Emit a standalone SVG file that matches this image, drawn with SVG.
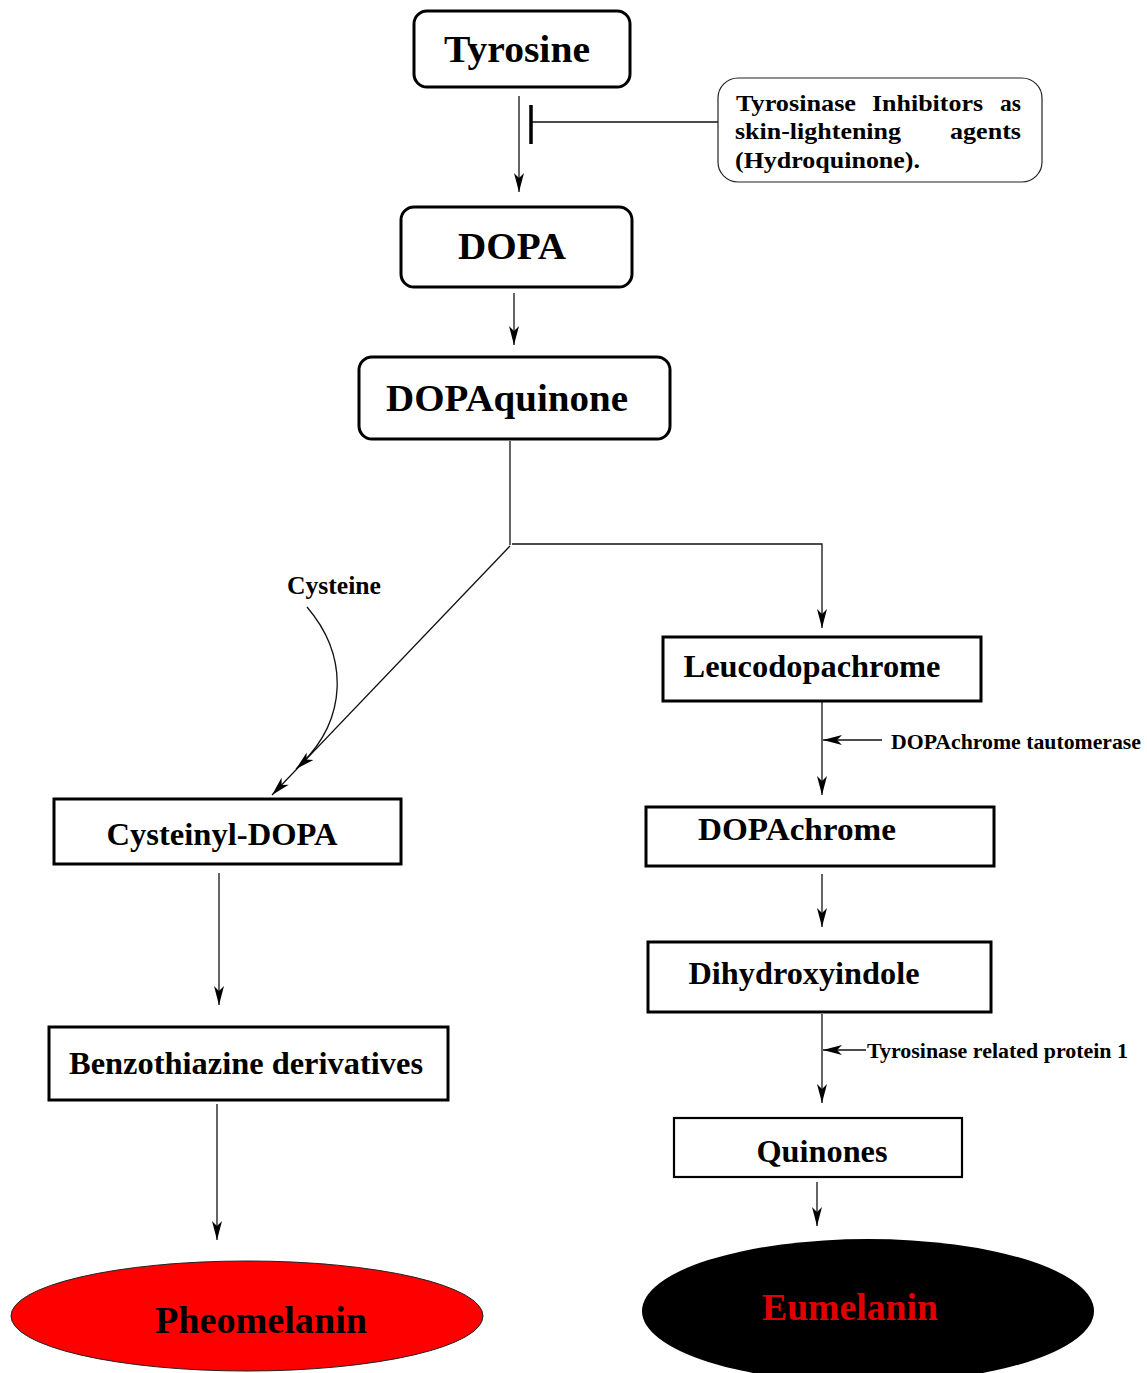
<svg xmlns="http://www.w3.org/2000/svg" width="1147" height="1373" viewBox="0 0 1147 1373">
<style>
text{font-family:"Liberation Serif","Times New Roman",serif;font-weight:bold;fill:#000}
.rbox{fill:#fff;stroke:#000;stroke-width:3}
.box{fill:#fff;stroke:#000;stroke-width:3}
.big{font-size:38px}
.mid{font-size:32px}
.sm{font-size:21.5px}
.inh{font-size:24px}
.c{text-anchor:middle}
.ln{fill:none;stroke:#111;stroke-width:1.3}
</style>
<defs>
<marker id="ah" markerUnits="userSpaceOnUse" markerWidth="20" markerHeight="12" viewBox="0 0 20 12" refX="19" refY="6" orient="auto">
<path d="M0,1 L19,6 L0,11 L5,6 Z" fill="#000"/>
</marker>
</defs>
<rect width="1147" height="1373" fill="#fff"/>
<g id="connectors">
<line class="ln" x1="519" y1="96" x2="519" y2="192" marker-end="url(#ah)"/>
<line class="ln" x1="718" y1="122" x2="531" y2="122"/>
<line x1="531" y1="105" x2="531" y2="144" stroke="#000" stroke-width="3.5"/>
<line class="ln" x1="514" y1="293" x2="514" y2="345" marker-end="url(#ah)"/>
<polyline class="ln" points="510,441 510,545"/>
<polyline class="ln" points="512,544 822,544 822,628" marker-end="url(#ah)"/>
<line class="ln" x1="510" y1="546" x2="272" y2="795" marker-end="url(#ah)"/>
<path class="ln" d="M307,607 C348,655 350,720 296,769" marker-end="url(#ah)"/>
<line class="ln" x1="219" y1="873" x2="219" y2="1005" marker-end="url(#ah)"/>
<line class="ln" x1="217" y1="1104" x2="217" y2="1240" marker-end="url(#ah)"/>
<line class="ln" x1="822" y1="702" x2="822" y2="795" marker-end="url(#ah)"/>
<line class="ln" x1="882" y1="740" x2="823" y2="740" marker-end="url(#ah)"/>
<line class="ln" x1="822" y1="874" x2="822" y2="927" marker-end="url(#ah)"/>
<line class="ln" x1="822" y1="1014" x2="822" y2="1103" marker-end="url(#ah)"/>
<line class="ln" x1="866" y1="1050" x2="823" y2="1050" marker-end="url(#ah)"/>
<line class="ln" x1="817" y1="1182" x2="817" y2="1226" marker-end="url(#ah)"/>
</g>
<g id="tyrosine">
<rect class="rbox" x="414" y="11" width="216" height="76" rx="13"/>
<text class="big c" x="517" y="62" textLength="146" lengthAdjust="spacingAndGlyphs">Tyrosine</text>
</g>
<g id="inhibitors">
<rect x="718" y="78" width="324" height="104" rx="20" fill="#fff" stroke="#222" stroke-width="1.2"/>
<text class="inh" x="736" y="111" textLength="120" lengthAdjust="spacingAndGlyphs">Tyrosinase</text>
<text class="inh" x="872" y="111" textLength="111" lengthAdjust="spacingAndGlyphs">Inhibitors</text>
<text class="inh" x="1000" y="111" textLength="21" lengthAdjust="spacingAndGlyphs">as</text>
<text class="inh" x="735" y="139" textLength="166" lengthAdjust="spacingAndGlyphs">skin-lightening</text>
<text class="inh" x="950" y="139" textLength="71" lengthAdjust="spacingAndGlyphs">agents</text>
<text class="inh" x="735" y="168" textLength="185" lengthAdjust="spacingAndGlyphs">(Hydroquinone).</text>
</g>
<g id="dopa">
<rect class="rbox" x="401" y="207" width="231" height="80" rx="13"/>
<text class="big c" x="512" y="259" textLength="108" lengthAdjust="spacingAndGlyphs">DOPA</text>
</g>
<g id="dopaquinone">
<rect class="rbox" x="359" y="357" width="311" height="82" rx="13"/>
<text class="big c" x="507" y="411" textLength="242" lengthAdjust="spacingAndGlyphs">DOPAquinone</text>
</g>
<g id="cysteine">
<text class="c" x="334" y="594" font-size="25.5" textLength="94" lengthAdjust="spacingAndGlyphs">Cysteine</text>
</g>
<g id="cysteinyl-dopa">
<rect class="box" x="54" y="799" width="347" height="65"/>
<text class="mid c" x="222" y="845" textLength="231" lengthAdjust="spacingAndGlyphs">Cysteinyl-DOPA</text>
</g>
<g id="benzothiazine">
<rect class="box" x="49" y="1027" width="399" height="73"/>
<text class="mid c" x="246" y="1074" textLength="354" lengthAdjust="spacingAndGlyphs">Benzothiazine derivatives</text>
</g>
<g id="pheomelanin">
<ellipse cx="247" cy="1316" rx="236" ry="55" fill="#fe0000" stroke="#222" stroke-width="1"/>
<text class="big c" x="261" y="1333" textLength="212" lengthAdjust="spacingAndGlyphs">Pheomelanin</text>
</g>
<g id="leucodopachrome">
<rect class="box" x="663" y="637" width="318" height="64"/>
<text class="mid c" x="812" y="677" textLength="257" lengthAdjust="spacingAndGlyphs">Leucodopachrome</text>
</g>
<g id="dopachrome-tautomerase">
<text class="sm" x="891" y="749" textLength="250" lengthAdjust="spacingAndGlyphs">DOPAchrome tautomerase</text>
</g>
<g id="dopachrome">
<rect class="box" x="646" y="807" width="348" height="59"/>
<text class="mid c" x="797" y="840" textLength="198" lengthAdjust="spacingAndGlyphs">DOPAchrome</text>
</g>
<g id="dihydroxyindole">
<rect class="box" x="648" y="942" width="343" height="70"/>
<text class="mid c" x="804" y="984" textLength="231" lengthAdjust="spacingAndGlyphs">Dihydroxyindole</text>
</g>
<g id="trp1">
<text class="sm" x="867" y="1058" textLength="261" lengthAdjust="spacingAndGlyphs">Tyrosinase related protein 1</text>
</g>
<g id="quinones">
<rect x="674" y="1118" width="288" height="59" fill="#fff" stroke="#000" stroke-width="2.2"/>
<text class="mid c" x="822" y="1162" textLength="131" lengthAdjust="spacingAndGlyphs">Quinones</text>
</g>
<g id="eumelanin">
<ellipse cx="868" cy="1311" rx="226" ry="72" fill="#000"/>
<text class="big c" x="850" y="1320" textLength="176" lengthAdjust="spacingAndGlyphs" style="fill:#e00000">Eumelanin</text>
</g>
</svg>
